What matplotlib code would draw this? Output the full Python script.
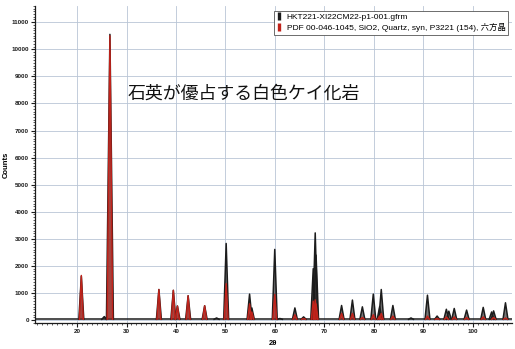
import matplotlib
matplotlib.use("Agg")
import matplotlib.pyplot as plt
from matplotlib.lines import Line2D
from matplotlib.ticker import MultipleLocator

plt.rcParams['font.family'] = ['Liberation Sans', 'Noto Sans CJK JP', 'DejaVu Sans']

# Measured pattern: peak positions (2θ, deg) and peak heights (counts)
sample_pos = [20.86, 25.5, 26.64, 36.54, 39.46, 40.29, 42.45, 45.79, 48.2,
              50.14, 54.87, 55.33, 59.96, 61.0, 64.03, 65.79, 67.74, 68.14,
              68.31, 73.47, 75.66, 77.67, 79.88, 81.17, 81.49, 83.84, 87.5,
              90.83, 92.78, 94.65, 95.15, 96.24, 98.74, 102.1, 103.8, 104.2,
              106.6]
sample_cnt = [1620, 130, 10550, 1130, 1100, 520, 900, 530, 80,
              2830, 960, 450, 2610, 60, 450, 120, 1900, 3220,
              2400, 540, 740, 490, 960, 500, 1130, 540, 80,
              920, 150, 400, 330, 430, 370, 470, 300, 340,
              640]

# Reference card PDF 00-046-1045 (quartz), scaled to the measured counts
ref_pos = [20.86, 26.64, 36.54, 39.46, 40.29, 42.45, 45.79, 50.14, 54.87,
           55.33, 59.96, 64.03, 65.79, 67.74, 68.14, 68.31, 73.47, 75.66,
           77.67, 79.88, 81.17, 81.49, 83.84, 90.83, 92.78, 94.65, 96.24,
           98.74, 102.1, 104.2, 106.6]
ref_cnt = [1650, 10500, 1130, 1100, 520, 900, 530, 1350, 600,
           300, 950, 200, 60, 700, 750, 600, 250, 250,
           100, 200, 150, 250, 150, 150, 60, 120, 120,
           100, 120, 100, 80]

series_labels = ["HKT221-XI22CM22-p1-001.gfrm",
                 "PDF 00-046-1045, SiO2, Quartz, syn, P3221 (154), 六方晶"]
y_ticks = list(range(0, 12000, 1000))
x_ticks = list(range(20, 110, 10))
note = "石英が優占する白色ケイ化岩"

BLACK = "#1c1c1c"
RED = "#c0221a"
GRID = "#b9c5d6"

fig = plt.figure(figsize=(5.15, 3.49), dpi=100)
ax = fig.add_axes([0.068, 0.075, 0.926, 0.908])

ax.set_xlim(11.5, 107.9)
ax.set_ylim(-100, 11600)

# flat background of the scan
ax.plot([11.5, 107.9], [30, 30], color=BLACK, lw=1.1, zorder=2)

def draw_peaks(pos, cnt, color, lw, hw, z):
    for p, c in zip(pos, cnt):
        w = hw * (1.4 if c > 5000 else 1.0)
        ax.plot([p - w, p, p + w], [30, c, 30], color=color, lw=lw,
                solid_joinstyle='round', zorder=z)
        ax.fill([p - w, p, p + w], [30, c, 30], color=color, lw=0,
                alpha=0.6, zorder=z)

draw_peaks(sample_pos, sample_cnt, BLACK, 1.1, 0.5, 3)
draw_peaks(ref_pos, ref_cnt, RED, 1.0, 0.4, 4)

ax.set_xticks(x_ticks)
ax.set_yticks(y_ticks)
ax.xaxis.set_minor_locator(MultipleLocator(1))
ax.yaxis.set_minor_locator(MultipleLocator(100))
ax.grid(True, which='major', color=GRID, lw=0.6, zorder=0)
ax.set_axisbelow(True)

for s in ('top', 'right'):
    ax.spines[s].set_visible(False)
for s in ('left', 'bottom'):
    ax.spines[s].set_color(BLACK)
    ax.spines[s].set_linewidth(0.9)

ax.tick_params(which='major', length=3, width=0.8, labelsize=4.5, pad=1.5,
               colors=BLACK)
ax.tick_params(which='minor', length=1.5, width=0.5, colors=BLACK)
for lab in ax.get_xticklabels() + ax.get_yticklabels():
    lab.set_fontweight('bold')

ax.set_ylabel("Counts", fontsize=5.5, fontweight='bold', labelpad=1)
ax.set_xlabel("2θ", fontsize=5.5, fontweight='bold')
ax.xaxis.set_label_coords(0.5, -0.055)

ax.text(0.247, 0.733, note, transform=fig.transFigure, fontsize=12.9,
        family=['Noto Sans CJK JP'], color="#111111", va='center', ha='left')

handles = [Line2D([], [], marker='|', markersize=6, markeredgewidth=2.4,
                  linestyle='None', color=c) for c in (BLACK, RED)]
leg = ax.legend(handles, series_labels, loc='upper right',
                bbox_to_anchor=(508 / 515, 1 - 11 / 349),
                bbox_transform=fig.transFigure, fontsize=6,
                frameon=True, fancybox=False, edgecolor="#555555",
                framealpha=1, borderpad=0.3, labelspacing=0.2,
                handlelength=0.6, handletextpad=0.6, borderaxespad=0)
leg.get_frame().set_linewidth(0.6)

fig.savefig("out.png", dpi=100)
